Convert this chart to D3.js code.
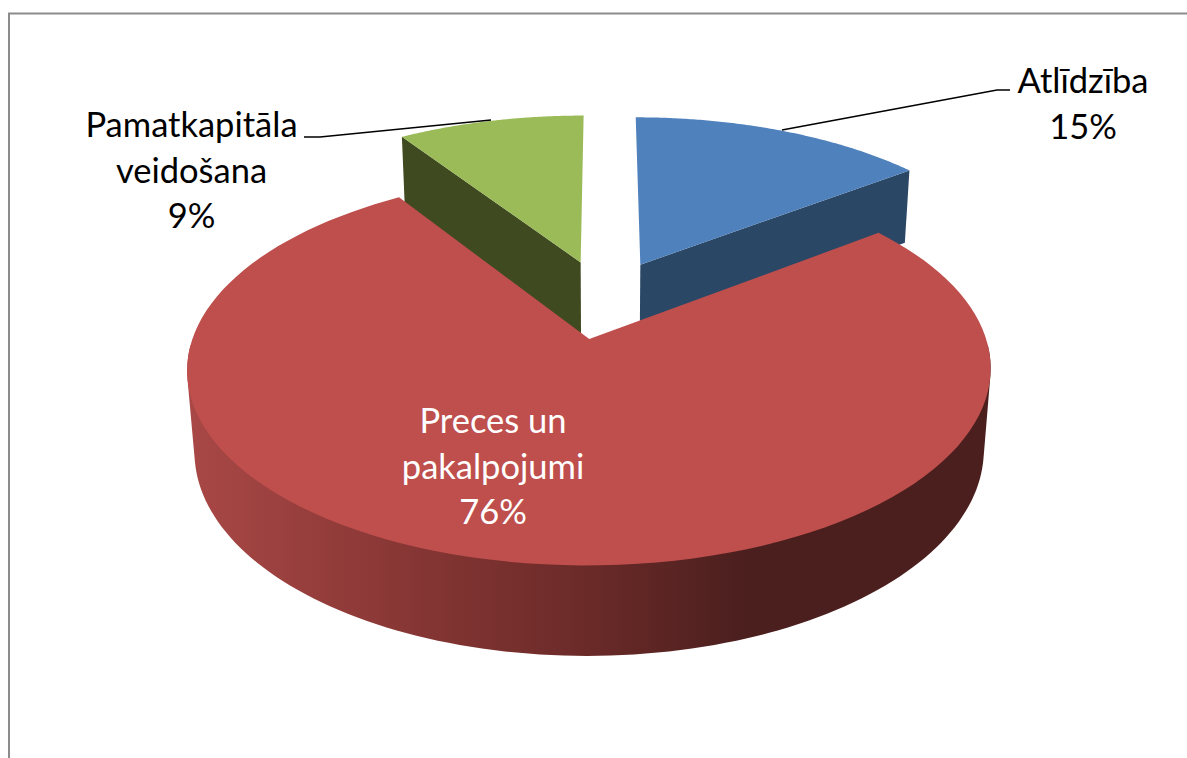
<!DOCTYPE html>
<html><head><meta charset="utf-8">
<style>html,body{margin:0;padding:0;background:#fff}svg{display:block}text{font-family:Lato,"Open Sans",sans-serif}</style>
<script src="https://cdn.jsdelivr.net/npm/d3@7"></script></head><body>
<script>
const categories = ["Atlīdzība","Preces un pakalpojumi","Pamatkapitāla veidošana"];
const values = [14.6,76.2,9.2];
const topColors = ["#4F81BD","#BE4F4D","#9BBB59"];
const wallColors = ["#2A4766","#6f2c2a","#3F4A20"];
const labelLines = [["Atlīdzība","15%"],["Preces un","pakalpojumi","76%"],["Pamatkapitāla","veidošana","9%"]];
const labelColors = ["#000","#fff","#000"];
const labelAnchors = [[1083,93],[493,433],[191.5,137]];
const leaders = [[[782,130],[997,90],[1010,90]],null,[[304,137],[320,137],[491,120]]];

const W=1187,H=758;
const cx=604,cy=299,f=384,g=179,h=80,k=0.15,m=0.017,explode=[0.22,0.22,0.22];
const P=(X,Y,Z=0)=>{const w=1-k*Y+m*Z;return [cx+f*X/w,cy+(g*Y+h*Z)/w];};
const svg=d3.select("body").append("svg").attr("width",W).attr("height",H);
const defs=svg.append("defs");
const grad=defs.append("linearGradient").attr("id","redWall").attr("gradientUnits","userSpaceOnUse")
 .attr("x1",187).attr("x2",991).attr("y1",0).attr("y2",0);
[[0,"#A94846"],[0.25,"#8a3836"],[0.5,"#6a2a28"],[0.7,"#4a1f1e"],[1,"#4a1f1e"]].forEach(s=>grad.append("stop").attr("offset",s[0]).attr("stop-color",s[1]));
// frame
svg.append("path").attr("d","M9,758V13.5H1187").attr("fill","none").attr("stroke","#8c8c8c").attr("stroke-width",2);
const pie=d3.pie().sort(null).startAngle(0).endAngle(2*Math.PI)(values);
const line=d3.line();
const sl=pie.map((d,i)=>{
  const mid=(d.startAngle+d.endAngle)/2,e=explode[i];
  const ox=e*Math.sin(mid),oy=-e*Math.cos(mid);
  const pt=(a,z)=>P(ox+Math.sin(a),oy-Math.cos(a),z);
  const rim=(z,a0=d.startAngle,a1=d.endAngle)=>d3.range(0,121).map(t=>pt(a0+(a1-a0)*t/120,z));
  return {i,d,rim,pt,apex:z=>P(ox,oy,z)};
});
// back slices first
[0,2,1].forEach(i=>{
  const s=sl[i];
  if(i===0){
    svg.append("path").attr("d",line([s.apex(0),s.pt(s.d.endAngle,0),s.pt(s.d.endAngle,1),s.apex(1)])+"Z").attr("fill",wallColors[i]);
  }
  if(i===2){
    svg.append("path").attr("d",line([s.apex(0),s.pt(s.d.startAngle,0),s.pt(s.d.startAngle,1),s.apex(1)])+"Z").attr("fill",wallColors[i]);
  }
  if(i===1){
    // silhouette of the front wall: hull of the upper and lower rims over the near half
    const a0=Math.PI/2+0.03,a1=3*Math.PI/2-0.03;
    const hull=d3.polygonHull([...s.rim(0,a0,a1),...s.rim(1,a0,a1)]);
    svg.append("path").attr("d",line(hull)+"Z").attr("fill","url(#redWall)");
  }
  svg.append("path").attr("d",line([s.apex(0),...s.rim(0)])+"Z").attr("fill",topColors[i]);
});
leaders.forEach(l=>{if(l)svg.append("path").attr("d",line(l)).attr("fill","none").attr("stroke","#000").attr("stroke-width",1.6);});
labelLines.forEach((ls,i)=>{
  const t=svg.append("text").attr("text-anchor","middle").attr("fill",labelColors[i]).attr("font-size",34.5);
  ls.forEach((s,j)=>t.append("tspan").attr("x",labelAnchors[i][0]).attr("y",labelAnchors[i][1]+j*45.5).text(s));
});
</script></body></html>
